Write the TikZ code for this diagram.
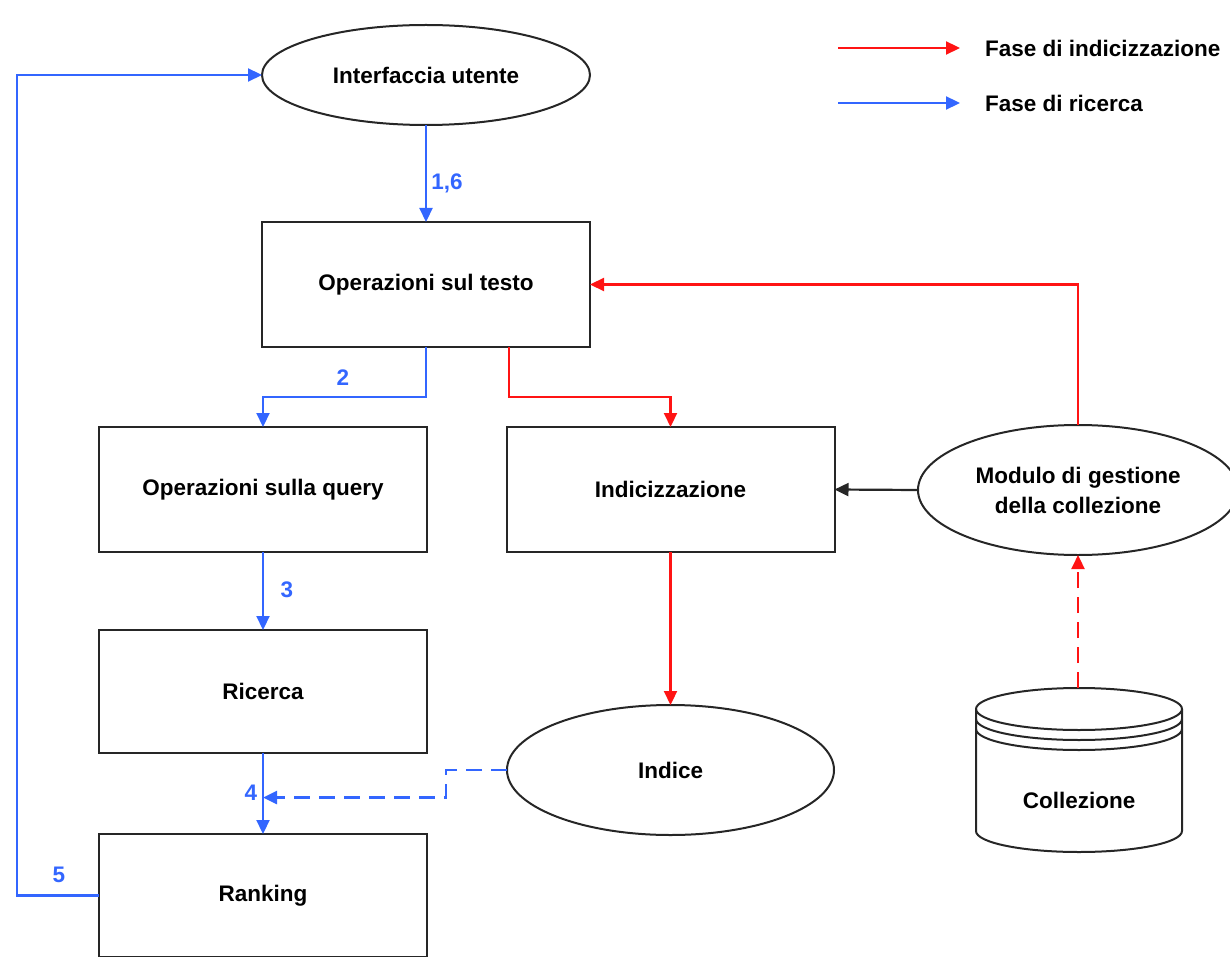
\documentclass[tikz,border=0pt]{standalone}
\usepackage{fontspec}
\setmainfont{Liberation Sans}
\usetikzlibrary{arrows.meta,shapes.geometric,calc}
\definecolor{blu}{RGB}{51,102,255}
\definecolor{rosso}{RGB}{255,20,20}
\begin{document}
\begin{tikzpicture}[x=1pt,y=-1pt,
  every node/.style={font=\fontsize{22.5}{30}\selectfont\bfseries},
  boxnode/.style={draw=black!85,line width=2pt,rectangle,minimum width=328pt,minimum height=125pt,inner sep=0pt,outer sep=0pt},
  ellnode/.style={draw=black!85,line width=2pt,ellipse,inner sep=0pt,outer sep=0pt,align=center},
  tip/.style={-{Triangle[length=14pt,width=13pt]}},
  blueline/.style={draw=blu,line width=2.2pt,tip},
  redline/.style={draw=rosso,line width=2.2pt,tip},
  blackline/.style={draw=black!85,line width=2.2pt,tip},
  lab/.style={text=blu,inner sep=0pt}
]
\useasboundingbox (0,0) rectangle (1230,957);

% nodes
\node[ellnode,minimum width=328pt,minimum height=100pt] (ui) at (426,75) {Interfaccia utente};
\node[boxnode] (testo) at (426,284.5) {Operazioni sul testo};
\node[boxnode] (query) at (263,489.5) {Operazioni sulla query};
\node[boxnode] (idx) at (670.5,489.5) {Indicizzazione};
\node[boxnode,minimum height=123pt] (ricerca) at (263,691.5) {Ricerca};
\node[boxnode,minimum height=123pt] (ranking) at (263,895.5) {Ranking};
\node[ellnode,minimum width=327pt,minimum height=130pt] (indice) at (670.5,770) {Indice};
\node[ellnode,minimum width=320pt,minimum height=130pt] (mod) at (1078,490) {Modulo di gestione\\della collezione};

% cylinder (Collezione)
\begin{scope}[draw=black!85,line width=2pt]
  \draw (976,709) arc[start angle=180,end angle=0,x radius=103,y radius=21]
        arc[start angle=0,end angle=-180,x radius=103,y radius=21];
  \draw (976,719) arc[start angle=180,end angle=0,x radius=103,y radius=21];
  \draw (976,729) arc[start angle=180,end angle=0,x radius=103,y radius=21];
  \draw (976,709) -- (976,831) arc[start angle=180,end angle=0,x radius=103,y radius=21] -- (1182,709);
\end{scope}
\node[inner sep=0pt] (coll) at (1079,800) {Collezione};
\coordinate (colltop) at (1078,688);

% blue connectors
\draw[blueline] (ui.south) -- (testo.north);
\draw[blueline] (testo.south) -- ++(0,50) -| (query.north);
\draw[blueline] (query.south) -- (ricerca.north);
\draw[blueline] (ricerca.south) -- (ranking.north);
\draw[blueline] (ranking.west) -- ++(-82,0) |- (ui.west);
\coordinate (j4) at ($(ricerca.south)!0.55!(ranking.north)$);
\draw[blueline,dash pattern=on 16pt off 9pt] (indice.west) -- ++(-61,0) |- (j4);

% red connectors
\draw[redline] ([xshift=83pt]testo.south) -- ++(0,50) -| (idx.north);
\draw[redline] (mod.north) |- (testo.east);
\draw[redline] (idx.south) -- (indice.north);
\draw[redline,dash pattern=on 16pt off 9pt] (colltop) -- (mod.south);

% black connector
\draw[blackline] (mod.west) -- (idx.east);

% labels
\node[lab] (l16) at (447,183) {1,6};
\node[lab] (l2) at (343,378) {2};
\node[lab] (l3) at (287,590) {3};
\node[lab] (l4) at (251,793) {4};
\node[lab] (l5) at (59,875) {5};

% legend
\coordinate (lr1) at (838,48);
\coordinate (lr2) at (960,48);
\coordinate (lb1) at (838,103);
\coordinate (lb2) at (960,103);
\draw[redline] (lr1) -- (lr2);
\draw[blueline] (lb1) -- (lb2);
\node[anchor=west,inner sep=0pt] (t1) at (985,48) {Fase di indicizzazione};
\node[anchor=west,inner sep=0pt] (t2) at (985,103) {Fase di ricerca};
\end{tikzpicture}
\end{document}
